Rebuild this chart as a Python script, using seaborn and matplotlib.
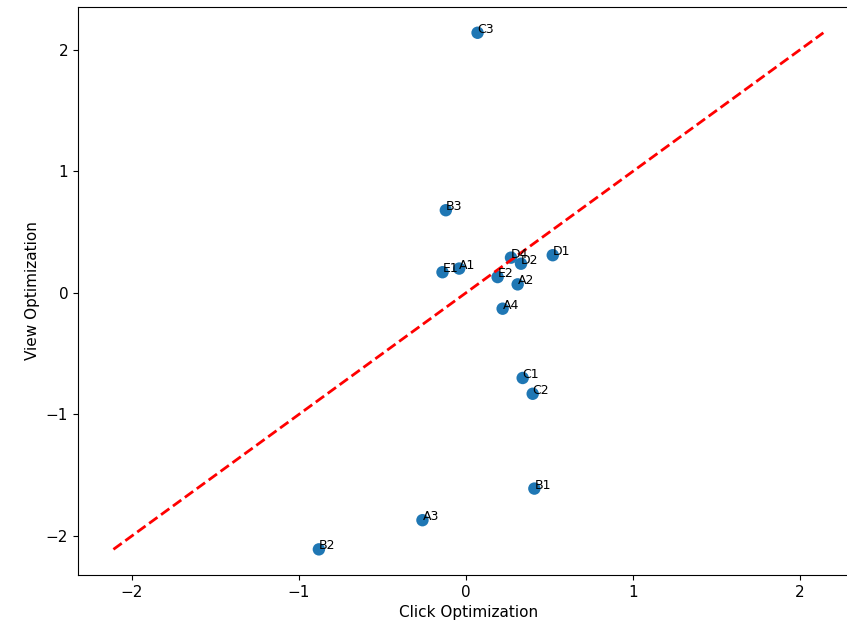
"""Scatter of click vs view optimization scores with identity line"""
import matplotlib
matplotlib.use("Agg")
import matplotlib.pyplot as plt
import pandas as pd
import seaborn as sns


NAMES = ['C3', 'B3', 'E1', 'A1', 'D4', 'D2', 'D1', 'E2',
         'A2', 'A4', 'C1', 'C2', 'B1', 'A3', 'B2']
CLICK = [0.07, -0.12, -0.14, -0.04, 0.27, 0.33, 0.52, 0.19,
         0.31, 0.22, 0.34, 0.40, 0.41, -0.26, -0.88]
VIEW = [2.14, 0.68, 0.17, 0.20, 0.29, 0.24, 0.31, 0.13,
        0.07, -0.13, -0.70, -0.83, -1.61, -1.87, -2.11]


def plot_scores():
    """Scatter plot with a dashed y=x reference line"""
    df = pd.DataFrame({"name": NAMES, "click": CLICK, "view": VIEW})

    fig = plt.figure(figsize=(8.47, 6.3), dpi=100)
    ax = fig.add_axes([0.092, 0.087, 0.922, 0.902])

    sns.scatterplot(data=df, x="click", y="view", ax=ax, s=80,
                    color="tab:blue", edgecolor="none", linewidth=0)
    for _, row in df.iterrows():
        ax.annotate(row["name"], (row["click"], row["view"]), fontsize=9)

    lo = min(df["click"].min(), df["view"].min())
    hi = max(df["click"].max(), df["view"].max())
    ax.plot([lo, hi], [lo, hi], color="red", linestyle="--", linewidth=2)

    ax.set_xlabel("Click Optimization", fontsize=11)
    ax.set_ylabel("View Optimization", fontsize=11)
    ax.tick_params(labelsize=11)

    fig.savefig("out.png", dpi=100)


if __name__ == "__main__":
    plot_scores()
